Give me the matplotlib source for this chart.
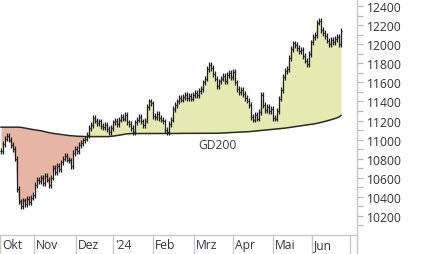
import numpy as np
import matplotlib
matplotlib.use("Agg")
from matplotlib import pyplot as plt
from matplotlib import transforms

plt.rcParams['font.family'] = ['Open Sans', 'DejaVu Sans']

# daily closes, Oct 2023 - Jun 2024
closes = [
    10880, 10950, 11010, 11040, 11000, 10940, 10900, 10800, 10480, 10350,
    10300, 10360, 10320, 10380, 10340, 10390, 10420, 10520, 10580, 10560,
    10600, 10540, 10620, 10580, 10520, 10600, 10700, 10660, 10720, 10690,
    10760, 10800, 10830, 10790, 10780, 10720, 10860, 10900, 10880, 10940,
    10960, 10990, 11010, 11050, 11120, 11150, 11230, 11200, 11170, 11190,
    11140, 11130, 11150, 11110, 11080, 11120, 11180, 11200, 11160, 11210,
    11240, 11220, 11260, 11180, 11160, 11120, 11080, 11180, 11210, 11240,
    11190, 11150, 11200, 11340, 11400, 11380, 11250, 11240, 11270, 11230,
    11210, 11190, 11100, 11080, 11160, 11210, 11320, 11360, 11400, 11440,
    11420, 11450, 11470, 11440, 11460, 11430, 11470, 11490, 11470, 11510,
    11530, 11600, 11640, 11740, 11780, 11750, 11690, 11640, 11560, 11610,
    11640, 11670, 11610, 11680, 11700, 11660, 11710, 11600, 11530, 11500,
    11520, 11480, 11440, 11410, 11360, 11240, 11210, 11260, 11220, 11290,
    11470, 11360, 11310, 11340, 11300, 11320, 11230, 11220, 11300, 11430,
    11520, 11660, 11720, 11740, 11860, 11950, 12010, 11990, 11960, 11930,
    11940, 11880, 11830, 11790, 11900, 12020, 12080, 12100, 12230, 12250,
    12150, 12120, 12090, 12040, 12000, 12050, 12020, 12060, 12080, 12000,
    12140,
]

# 200-day average, same days
gd200 = [
    11130, 11130, 11130, 11130, 11130, 11130, 11130, 11130, 11130, 11130,
    11128, 11124, 11120, 11116, 11112, 11108, 11105, 11102, 11099, 11096,
    11092, 11087, 11082, 11077, 11072, 11068, 11065, 11061, 11058, 11055,
    11052, 11049, 11046, 11044, 11042, 11040, 11038, 11036, 11035, 11034,
    11033, 11032, 11031, 11031, 11031, 11031, 11031, 11031, 11031, 11031,
    11031, 11031, 11031, 11031, 11031, 11033, 11036, 11039, 11042, 11045,
    11049, 11053, 11057, 11060, 11062, 11063, 11063, 11063, 11063, 11063,
    11063, 11063, 11063, 11063, 11063, 11063, 11063, 11063, 11063, 11064,
    11064, 11064, 11064, 11064, 11064, 11064, 11064, 11064, 11064, 11064,
    11065, 11065, 11065, 11065, 11065, 11065, 11065, 11065, 11065, 11065,
    11065, 11065, 11065, 11065, 11066, 11066, 11066, 11066, 11066, 11067,
    11068, 11069, 11070, 11071, 11072, 11073, 11074, 11075, 11076, 11077,
    11078, 11079, 11080, 11082, 11083, 11085, 11087, 11089, 11091, 11092,
    11094, 11096, 11098, 11100, 11102, 11104, 11106, 11108, 11110, 11112,
    11114, 11117, 11120, 11123, 11126, 11129, 11132, 11135, 11138, 11141,
    11144, 11147, 11150, 11153, 11155, 11158, 11162, 11166, 11170, 11175,
    11180, 11185, 11190, 11196, 11202, 11208, 11214, 11221, 11229, 11237,
    11253,
]

months = ["Okt", "Nov", "Dez", "'24", "Feb", "Mrz", "Apr", "Mai", "Jun", ""]
month_starts = [-0.5, 16.5, 37.5, 56, 76, 96.5, 116, 136, 155.5, 174.5]

closes = np.array(closes, dtype=float)
gd200 = np.array(gd200, dtype=float)
days = np.arange(len(closes))
opens = np.concatenate([[closes[0]], closes[:-1]])
highs = np.maximum(opens, closes)
lows = np.minimum(opens, closes)

fig = plt.figure(figsize=(4.26, 2.55), dpi=100)
ax = fig.add_axes([0, 19.3 / 255, 357 / 426, 235.7 / 255])

ax.fill_between(days, closes, gd200, where=closes <= gd200, interpolate=True,
                color="#E6B5A4", lw=0)
ax.fill_between(days, closes, gd200, where=closes >= gd200, interpolate=True,
                color="#E5EAB0", lw=0)
ax.plot(days, gd200, color="#2a2a2a", lw=1.1)

# OHLC-style bars
ax.vlines(days, lows - 30, highs + 30, color="#1e1e1e", lw=0.9)
ax.hlines(opens, days - 0.45, days, color="#1e1e1e", lw=0.9)
ax.hlines(closes, days, days + 0.45, color="#1e1e1e", lw=0.9)

ax.text(98.5, 10953, "GD200", fontsize=8.7, color="#3b3b4a", ha="left", va="center")

ax.set_xlim(-0.5, 178)
ax.set_ylim(10000, 12477)

for s in ["top", "left", "right"]:
    ax.spines[s].set_visible(False)
ax.spines["bottom"].set_color("#c8c8c8")
ax.spines["bottom"].set_linewidth(1)

ax.yaxis.tick_right()
ax.set_yticks(np.arange(10200, 12401, 200))
ax.set_yticks(np.arange(10100, 12478, 100), minor=True)
ax.tick_params(axis="y", which="both", length=4, color="#b8b8b8", width=0.9,
               labelsize=8.7, labelcolor="#333333", pad=3)
ax.set_xticks([])

# month separators and labels in the band under the plot
trans = transforms.blended_transform_factory(ax.transData, ax.transAxes)
band = -19.3 / 235.7
for pos, name in zip(month_starts, months):
    ax.plot([pos, pos], [band, 0], transform=trans, color="#c8c8c8", lw=1,
            clip_on=False)
    ax.text(pos + 1.1, band / 2, name, transform=trans, fontsize=8.7,
            color="#333344", ha="left", va="center", clip_on=False)

fig.add_artist(plt.Line2D([357 / 426, 357 / 426], [0, 1], color="#c8c8c8",
                          lw=1, transform=fig.transFigure))

fig.savefig("out.png", dpi=100)
